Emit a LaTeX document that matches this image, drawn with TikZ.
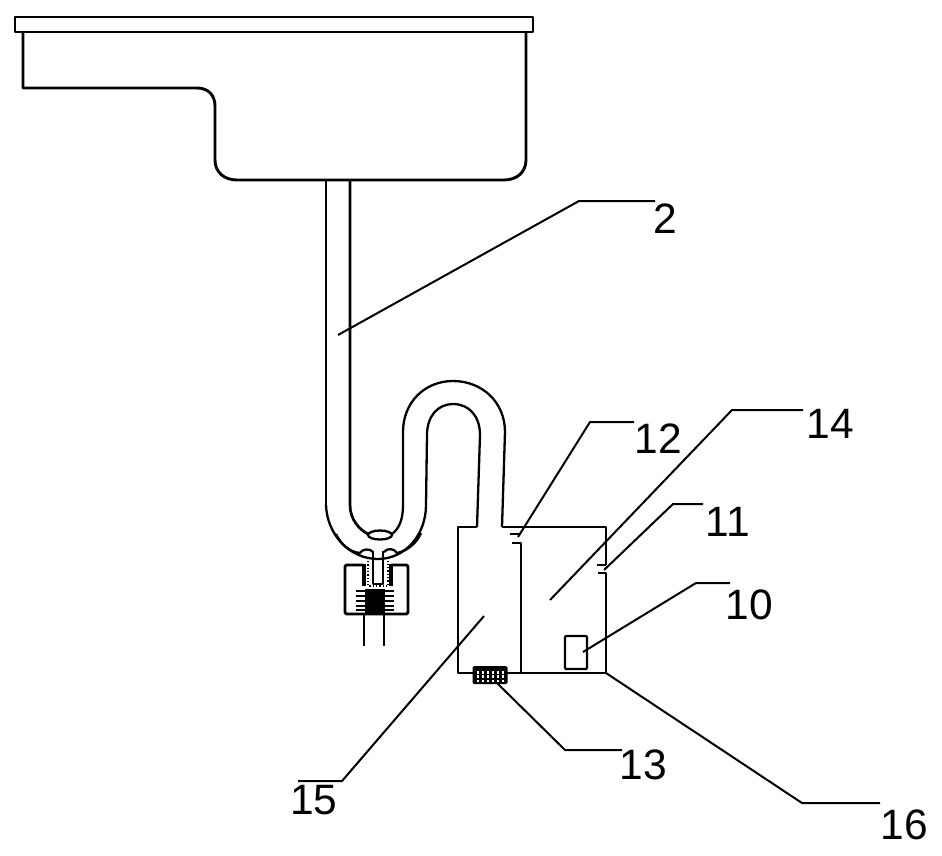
\documentclass[tikz,border=0pt]{standalone}
\usepackage{fontspec}
\setmainfont{Liberation Sans}
\tikzset{
  x=1pt,y=-1pt,
  ln/.style={line width=2.9pt,line join=round},
  pipeln/.style={line width=2.3pt,line join=round},
  lead/.style={line width=2pt,line join=round},
  lab/.style={font=\fontsize{42.5}{44}\selectfont,inner sep=0pt,anchor=center}
}
\begin{document}
\begin{tikzpicture}
\useasboundingbox[fill=white] (0,0) rectangle (942,855);
% tank
\draw[ln] (15,17) rectangle (533,32);
\draw[ln] (23,32) -- (23,88) -- (197,88) .. controls (208,88) and (215,95) .. (215,106) -- (215,160)
  .. controls (215,172) and (224,180) .. (237,180) -- (504,180)
  .. controls (517,180) and (526,172) .. (526,160) -- (526,32);
% pipe: outer line
\draw[line width=1.5pt] (326,180) -- (326,505);
\draw[pipeln] (326,505) .. controls (327,535) and (350,559) .. (378,559)
  .. controls (405,559) and (426,535) .. (426,505) -- (427,435)
  .. controls (427,416) and (438,404) .. (453,404)
  .. controls (469,404) and (480,416) .. (480,435) -- (477,527);
% pipe: inner line
\draw[pipeln,line width=2.7pt] (350,180) -- (350,505) .. controls (350,520) and (360,530) .. (368,534);
\draw[pipeln] (392,534) .. controls (400,528) and (403,518) .. (403,505) -- (403,432)
  .. controls (403,402) and (425,381) .. (453,381)
  .. controls (482,381) and (505,402) .. (505,432) -- (502,527);
\draw[pipeln] (380,535) ellipse [x radius=12,y radius=4.5];
% pipe: seat
\draw[pipeln] (336,534) .. controls (341,545) and (350,552) .. (360,553)
  .. controls (362,549) and (370,548) .. (373,552);
\draw[pipeln] (384,552) .. controls (387,548) and (394,548) .. (397,553)
  .. controls (407,551) and (417,543) .. (421,533);
% valve cup
\draw[ln,rounded corners=1.5pt] (363.5,565) -- (345,565) -- (345,614) -- (408,614) -- (408,565) -- (391,565);
\draw[line width=3.5pt] (364,564) -- (364,586);
\draw[line width=3.5pt] (391,564) -- (391,586);
% pin
\draw[pipeln] (373,551) -- (373,584) -- (383,584) -- (383,551);
\draw[line width=1.3pt,dotted] (368,561) -- (368,586) -- (388,586) -- (388,561);
% spring
\fill (365,589) rectangle (385,613);
\foreach \yy in {591,596,601,606,610}{\draw[line width=2.7pt] (356,\yy) -- (394,\yy);}
% legs
\draw[ln] (364,614) -- (364,646);
\draw[ln] (384,614) -- (384,646);
% box
\draw[ln] (477,527) -- (458,527) -- (458,673) -- (606,673) -- (606,573) -- (598,573);
\draw[ln] (502,527) -- (606,527) -- (606,565);
\draw[line width=1.8pt] (597,565) -- (606,565);
\draw[ln] (510,534) -- (521,534);
\draw[ln] (512,543) -- (521,543) -- (521,673);
% sensor 10
\node[draw,line width=2.4pt,rounded corners=1pt,minimum width=22pt,minimum height=33pt,inner sep=0pt] (sensor) at (576,652.5) {};
% mesh 13
\node[fill=black,rounded corners=1.5pt,minimum width=35pt,minimum height=18pt,inner sep=0pt] (mesh) at (490,675) {};
\foreach \cx in {476.5,481.5,486.5,491.5,496.5,501.5}{\foreach \cy in {671,675,679.5}{\fill[white] (\cx,\cy) rectangle ++(2.6,2.6);}}
% leader points
\coordinate (t2) at (338,335);   \coordinate (k2) at (579,201);   \coordinate (e2) at (655,201);
\coordinate (t12) at (518,537);  \coordinate (k12) at (590,422);  \coordinate (e12) at (634,422);
\coordinate (t14) at (550,600);  \coordinate (k14) at (732,410);  \coordinate (e14) at (803,410);
\coordinate (t11) at (604,570);  \coordinate (k11) at (673,504);  \coordinate (e11) at (703,504);
\coordinate (t10) at (583,652);  \coordinate (k10) at (696,583);  \coordinate (e10) at (730,583);
\coordinate (t13) at (497,683);  \coordinate (k13) at (565,750);  \coordinate (e13) at (622,750);
\coordinate (t15) at (484,616);  \coordinate (k15) at (342,781);  \coordinate (e15) at (298,781);
\coordinate (t16) at (606,673);  \coordinate (k16) at (802,803);  \coordinate (e16) at (880,803);
\draw[lead] (t2) -- (k2) -- (e2);
\draw[lead] (t12) -- (k12) -- (e12);
\draw[lead] (t14) -- (k14) -- (e14);
\draw[lead] (t11) -- (k11) -- (e11);
\draw[lead] (t10) -- (k10) -- (e10);
\draw[lead] (t13) -- (k13) -- (e13);
\draw[lead] (t15) -- (k15) -- (e15);
\draw[lead] (t16) -- (k16) -- (e16);
% labels
\node[lab] (l2) at (665,219) {2};
\node[lab] (l12) at (658,439) {12};
\node[lab] (l14) at (830,424) {14};
\node[lab] (l11) at (728,522) {11};
\node[lab] (l10) at (749,605) {10};
\node[lab] (l13) at (643,765) {13};
\node[lab] (l15) at (314,800) {15};
\node[lab] (l16) at (904,825) {16};
\end{tikzpicture}
\end{document}
